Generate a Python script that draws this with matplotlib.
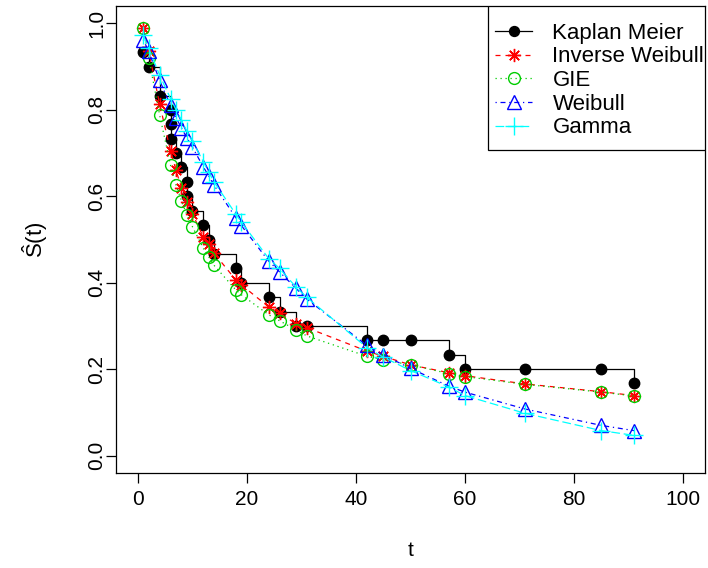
import matplotlib
matplotlib.use("Agg")
import matplotlib.pyplot as plt
from matplotlib.patches import Rectangle

plt.rcParams["font.family"] = ["Liberation Sans", "DejaVu Sans"]
plt.rcParams["mathtext.fontset"] = "custom"
plt.rcParams["mathtext.rm"] = "Liberation Sans"
plt.rcParams["mathtext.it"] = "Liberation Sans"

# --------------------------
# data
# --------------------------
# Kaplan Meier points (one per observation, ties stacked)
km_t = [1, 2, 4, 6, 6, 6, 7, 8, 9, 9, 10, 12, 13, 14, 18, 19, 24, 26,
        29, 31, 42, 45, 50, 57, 60, 71, 85, 91]
km_s = [0.933, 0.900, 0.833, 0.800, 0.767, 0.733, 0.700, 0.667, 0.633,
        0.600, 0.567, 0.533, 0.500, 0.467, 0.433, 0.400, 0.367, 0.333,
        0.300, 0.300, 0.267, 0.267, 0.267, 0.233, 0.200, 0.200, 0.200,
        0.167]

# fitted survival at the distinct times
fit_t = [1, 2, 4, 6, 7, 8, 9, 10, 12, 13, 14, 18, 19, 24, 26, 29, 31,
         42, 45, 50, 57, 60, 71, 85, 91]
inv_weibull = [0.990, 0.935, 0.813, 0.705, 0.660, 0.620, 0.587, 0.560,
               0.506, 0.490, 0.468, 0.406, 0.395, 0.344, 0.330, 0.305,
               0.296, 0.242, 0.230, 0.210, 0.192, 0.185, 0.166, 0.148,
               0.139]
gie = [0.990, 0.920, 0.788, 0.672, 0.626, 0.590, 0.557, 0.530, 0.480,
       0.460, 0.440, 0.383, 0.372, 0.326, 0.312, 0.291, 0.277, 0.230,
       0.222, 0.210, 0.190, 0.183, 0.165, 0.147, 0.138]
weibull = [0.962, 0.935, 0.868, 0.810, 0.782, 0.758, 0.735, 0.714,
           0.668, 0.647, 0.625, 0.550, 0.532, 0.450, 0.425, 0.387,
           0.362, 0.255, 0.233, 0.202, 0.161, 0.147, 0.108, 0.070,
           0.058]
gamma = [0.972, 0.942, 0.880, 0.826, 0.800, 0.776, 0.750, 0.728, 0.680,
         0.656, 0.633, 0.558, 0.540, 0.456, 0.433, 0.390, 0.366, 0.250,
         0.228, 0.197, 0.159, 0.139, 0.098, 0.058, 0.047]

W, H = 708, 568
fig = plt.figure(figsize=(W / 100, H / 100), dpi=100)
ax = fig.add_axes([116 / W, 1 - 473 / H, (705 - 116) / W, (473 - 6) / H])

ms = 7.5
lw = 0.9
ax.plot(km_t, km_s, color="black", lw=lw, drawstyle="steps-post")
ax.plot(km_t, km_s, "o", color="black", ms=ms, ls="none")
km_handle = plt.Line2D([], [], color="black", lw=lw, marker="o", ms=ms * 0.95)

ax.plot(fit_t, inv_weibull, color="red", lw=lw, ls=(0, (4, 4)),
        marker=(8, 2, 0), ms=ms + 2, mew=1.0, label="Inverse Weibull")
ax.plot(fit_t, gie, color="#00CD00", lw=lw, ls=(0, (1, 3)),
        marker="o", mfc="none", ms=ms + 1, mew=1.0, label="GIE")
ax.plot(fit_t, weibull, color="blue", lw=lw, ls=(0, (1, 3, 4, 3)),
        marker="^", mfc="none", ms=ms + 2, mew=1.0, label="Weibull")
ax.plot(fit_t, gamma, color="cyan", lw=lw, ls=(0, (7, 3)),
        marker="+", ms=ms + 5, mew=1.0, label="Gamma")

ax.set_xlim(-4, 104)
ax.set_ylim(-0.04, 1.04)
ax.set_xticks([0, 20, 40, 60, 80, 100])
ax.set_yticks([0.0, 0.2, 0.4, 0.6, 0.8, 1.0])
ax.set_yticklabels(["0.0", "0.2", "0.4", "0.6", "0.8", "1.0"], rotation=90, va="center")
ax.tick_params(direction="out", length=7, width=0.9, labelsize=15)
ax.tick_params(axis="x", pad=5)
ax.tick_params(axis="y", pad=0)
for sp in ax.spines.values():
    sp.set_linewidth(0.9)

ax.set_xlabel("t", fontsize=15, labelpad=23)
ax.set_ylabel(r"$\hat{\mathrm{S}}\mathrm{(t)}$", fontsize=16, labelpad=27)

# legend box drawn by hand so the text is clipped at the frame like R does
x0 = (488 - 116) / (705 - 116)
y0 = (473 - 150) / (473 - 6)
ax.add_patch(Rectangle((x0, y0), 1 - x0, 1 - y0, transform=ax.transAxes,
                       facecolor="white", edgecolor="black", lw=0.9, zorder=5))
handles, labels = ax.get_legend_handles_labels()
leg = ax.legend([km_handle] + handles, ["Kaplan Meier"] + labels,
                loc="upper left", bbox_to_anchor=(x0, 1 - 10 / 467),
                borderaxespad=0, frameon=False, fontsize=16,
                handlelength=1.7, handletextpad=0.9, labelspacing=0.12,
                borderpad=0.3)
leg.set_zorder(6)
for txt in leg.get_texts():
    txt.set_clip_box(ax.bbox)
    txt.set_clip_on(True)

plt.savefig("out.png", dpi=100)
plt.close()
